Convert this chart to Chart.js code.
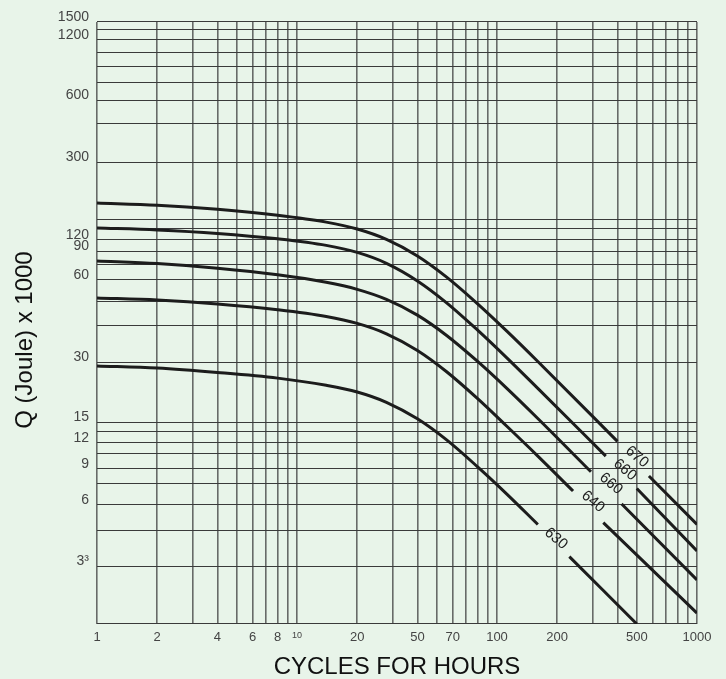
<!DOCTYPE html>
<html>
<head>
<meta charset="utf-8">
<script src="https://cdn.jsdelivr.net/npm/chart.js@4.4.1/dist/chart.umd.min.js"></script>
<style>
html, body { margin: 0; padding: 0; background: #e8f4e9; }
</style>
</head>
<body>
<canvas id="myChart" width="726" height="679"></canvas>
<script>
// grid of the log-log paper (values as drawn in the picture)
const cyclesGrid = [1, 2, 3, 4, 5, 6, 7, 8, 9, 10, 20, 30, 40, 50, 60, 70, 80, 90, 100, 200, 300, 400, 500, 600, 700, 800, 900, 1000];
const cyclesText = ['1', '2', '', '4', '', '6', '', '8', '', '10', '20', '', '50', '', '70', '', '', '', '100', '200', '', '', '500', '', '', '', '', '1000'];

const jouleGrid = [1.5, 2.9, 4.4, 5.9, 7.5, 8.9, 10.6, 12, 13.6, 15.2, 30.3, 46, 61, 78, 93, 108, 123, 141, 155, 300, 470, 610, 750, 900, 1060, 1220, 1370, 1500];
const jouleText = ['', '3³', '', '6', '', '9', '', '12', '', '15', '30', '', '', '60', '', '90', '120', '', '', '300', '', '600', '', '', '', '1200', '', '1500'];

// curves (null = gap where the name is written)
const cycles670 = [1, 2, 4, 8, 14, 20, 28, 40, 56, 80, 112, 160, 400, 480, 575, 1000];
const joule670 = [188, 183.4, 174.9, 163.3, 150.9, 139.4, 123.8, 102.4, 80.3, 59.1, 43.2, 30.5, 12.2, null, 8.2, 4.7];

const cycles660 = [1, 2, 4, 8, 14, 20, 28, 40, 56, 80, 112, 160, 350, 420, 500, 1000];
const joule660 = [141.1, 138, 132.6, 124.6, 115.6, 106.6, 94.1, 76.9, 59.8, 43.7, 31.8, 22.4, 10.3, null, 7.1, 3.47];

const cycles650 = [1, 2, 4, 8, 14, 20, 28, 40, 56, 80, 112, 160, 295, 350, 420, 1000];
const joule650 = [96.7, 93.8, 88.9, 82.5, 75.7, 69.8, 62.2, 51.9, 41.1, 30.5, 22.4, 15.85, 8.6, null, 5.95, 2.49];

const cycles640 = [1, 2, 4, 8, 14, 20, 28, 40, 56, 80, 112, 160, 240, 290, 340, 1000];
const joule640 = [63.2, 61.7, 59.0, 55.2, 51.1, 47.2, 41.9, 34.6, 27.1, 19.9, 14.5, 10.3, 6.9, null, 4.8, 1.70];

const cycles630 = [1, 2, 4, 8, 14, 20, 28, 40, 56, 80, 112, 160, 195, 230, 500];
const joule630 = [29.0, 28.3, 26.9, 25.2, 23.2, 21.5, 19.1, 15.8, 12.4, 9.1, 6.66, 4.7, null, 3.25, 1.5];

// names written along the curves
const curveNames = ['670', '660', '660', '640', '630'];
const nameCycles = [501, 436, 371, 302, 197];
const nameJoule = [10.2, 8.8, 7.5, 6.1, 4.0];

const bg = '#e8f4e9';
const font = 'Liberation Sans, Arial, sans-serif';

function toPoints(xs, ys) {
    return xs.map(function (x, i) {
        return {x: x, y: ys[i]};
    });
}

function curve(xs, ys) {
    return {
        data: toPoints(xs, ys),
        borderColor: '#1c1c1c',
        borderWidth: 3,
        pointRadius: 0,
        fill: false,
        spanGaps: false,
        cubicInterpolationMode: 'monotone'
    };
}

// background + the texts that chart.js can't place by itself
let paper = {
    id: 'paper',
    beforeDraw: function (chart) {
        let ctx = chart.ctx;
        ctx.save();
        ctx.fillStyle = bg;
        ctx.fillRect(0, 0, chart.width, chart.height);
        ctx.restore();
    },
    afterDraw: function (chart) {
        let ctx = chart.ctx;
        let xs = chart.scales.x;
        let ys = chart.scales.y;
        let area = chart.chartArea;

        // y title
        ctx.save();
        ctx.translate(ys.left + 25, (area.top + area.bottom) / 2 + 17);
        ctx.rotate(-Math.PI / 2);
        ctx.fillStyle = '#111';
        ctx.font = '24px ' + font;
        ctx.textAlign = 'center';
        ctx.textBaseline = 'middle';
        ctx.fillText('Q (Joule) x 1000', 0, 0);
        ctx.restore();

        // curve names
        curveNames.forEach(function (name, i) {
            let px = xs.getPixelForValue(nameCycles[i]);
            let py = ys.getPixelForValue(nameJoule[i]);
            ctx.save();
            ctx.translate(px, py);
            ctx.rotate(40 * Math.PI / 180);
            ctx.fillStyle = '#222';
            ctx.font = '15px ' + font;
            ctx.textAlign = 'center';
            ctx.textBaseline = 'middle';
            ctx.fillText(name, 0, 0);
            ctx.restore();
        });
    }
};

let ctx = document.getElementById('myChart').getContext('2d');
let chart = new Chart(ctx, {
    type: 'line',
    data: {
        datasets: [
            curve(cycles670, joule670),
            curve(cycles660, joule660),
            curve(cycles650, joule650),
            curve(cycles640, joule640),
            curve(cycles630, joule630)
        ]
    },
    options: {
        responsive: false,
        animation: false,
        events: [],
        layout: {padding: {top: 22, right: 29, left: 0, bottom: 0}},
        plugins: {
            legend: {display: false},
            tooltip: {enabled: false}
        },
        scales: {
            x: {
                type: 'logarithmic',
                min: 1,
                max: 1000,
                afterBuildTicks: function (axis) {
                    axis.ticks = cyclesGrid.map(function (v) { return {value: v}; });
                },
                afterFit: function (axis) { axis.height = 55; },
                grid: {color: 'rgba(60,60,60,0.75)', lineWidth: 1.6, drawTicks: false},
                border: {display: false},
                ticks: {
                    autoSkip: false,
                    maxRotation: 0,
                    padding: 6,
                    color: '#444',
                    font: function (c) {
                        return {family: font, size: (c.tick && c.tick.value === 10) ? 9 : 13};
                    },
                    callback: function (v, i) { return cyclesText[i]; }
                },
                title: {
                    display: true,
                    text: 'CYCLES FOR HOURS',
                    color: '#111',
                    font: {family: font, size: 24, lineHeight: 1},
                    padding: {top: 0, bottom: 0}
                }
            },
            y: {
                type: 'logarithmic',
                min: 1.5,
                max: 1500,
                afterBuildTicks: function (axis) {
                    axis.ticks = jouleGrid.map(function (v) { return {value: v}; });
                },
                afterFit: function (axis) { axis.width = 97; },
                grid: {color: '#3a3a3a', lineWidth: 1.1, drawTicks: false},
                border: {display: false},
                ticks: {
                    autoSkip: false,
                    padding: 8,
                    labelOffset: -5,
                    color: '#444',
                    font: {family: font, size: 14},
                    callback: function (v, i) { return jouleText[i]; }
                }
            }
        }
    },
    plugins: [paper]
});
</script>
</body>
</html>
